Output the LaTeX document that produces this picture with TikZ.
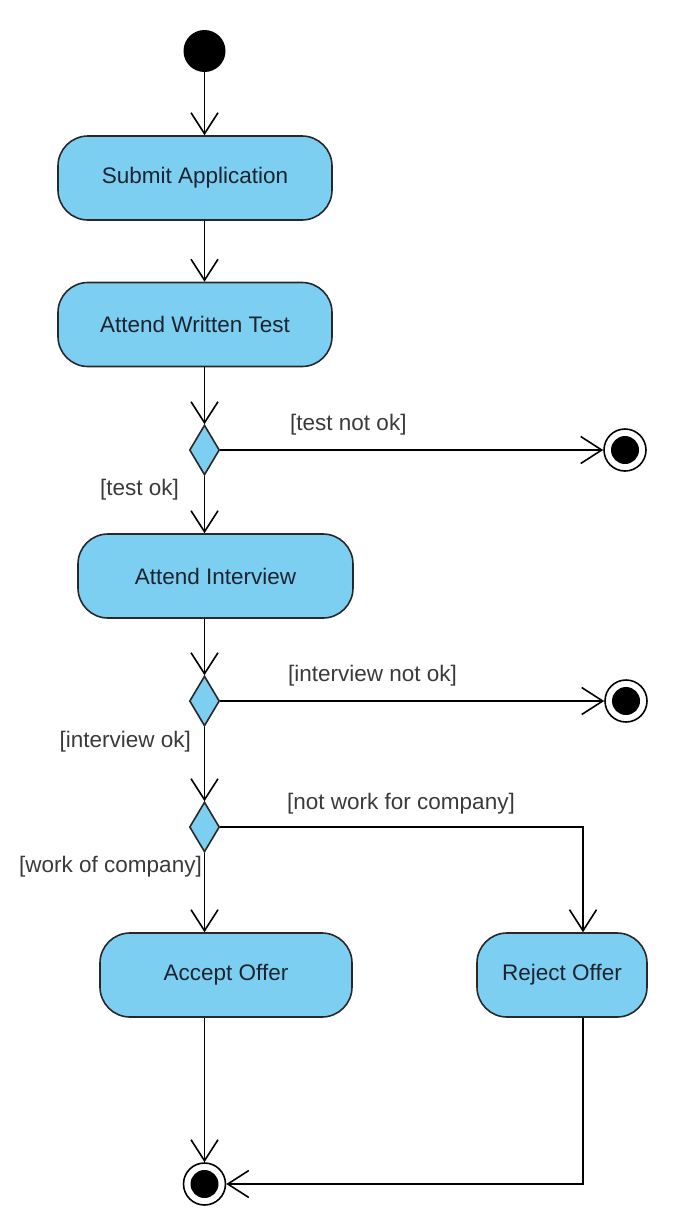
\documentclass[tikz,border=0pt]{standalone}
\usepackage{fontspec}
\setmainfont{Liberation Sans}
\usetikzlibrary{arrows.meta,shapes.geometric}
\definecolor{actblue}{RGB}{125,207,242}
\definecolor{actline}{RGB}{40,40,40}
\definecolor{acttext}{RGB}{28,36,48}
\definecolor{guardtext}{RGB}{58,58,58}
\tikzset{
  action/.style={draw=actline, fill=actblue, line width=1.6pt, rounded corners=30pt,
    minimum height=84pt, inner sep=0pt, text=acttext, font=\fontsize{22.5}{26}\selectfont},
  decision/.style={draw=actline, fill=actblue, line width=1.6pt, shape=diamond,
    minimum width=30pt, minimum height=50pt, inner sep=0pt},
  initial/.style={circle, fill=black, minimum size=42pt, inner sep=0pt},
  final/.style={circle, draw=black, line width=1.6pt, fill=white, minimum size=42pt, inner sep=0pt,
    path picture={\fill[black] (path picture bounding box.center) circle (14pt);}},
  flow/.style={draw=black, line width=1.6pt, -{Straight Barb[length=21pt,width=27pt,line width=1.6pt]}},
  guard/.style={text=guardtext, inner sep=0pt, font=\fontsize{22.5}{26}\selectfont}
}
\begin{document}
\begin{tikzpicture}[x=1pt,y=-1pt]
\useasboundingbox (0,0) rectangle (680,1216);
% nodes
\node[initial] (start) at (204.5,51) {};
\node[action, minimum width=274pt] (submit) at (195,178) {Submit Application};
\node[action, minimum width=274pt] (written) at (195,324.5) {Attend Written Test};
\node[decision] (d1) at (204.5,450) {};
\node[final] (f1) at (625,450) {};
\node[action, minimum width=275pt] (interview) at (215.5,576) {Attend Interview};
\node[decision] (d2) at (204.5,701) {};
\node[final] (f2) at (626,701) {};
\node[decision] (d3) at (204.5,827) {};
\node[action, minimum width=252pt] (accept) at (226,975) {Accept Offer};
\node[action, minimum width=170pt] (reject) at (562,975) {Reject Offer};
\node[final] (f3) at (204.5,1184) {};
\coordinate (rjx) at (583,975);
% guards
\node[guard, anchor=west] (g1) at (290,425) {[test not ok]};
\node[guard, anchor=east] (g2) at (179,490) {[test ok]};
\node[guard, anchor=west] (g3) at (288,676) {[interview not ok]};
\node[guard, anchor=east] (g4) at (191,742) {[interview ok]};
\node[guard, anchor=west] (g5) at (287,804) {[not work for company]};
\node[guard, anchor=east] (g6) at (202,867) {[work of company]};
% flows
\draw[flow] (start) -- (start |- submit.north);
\draw[flow] (start |- submit.south) -- (start |- written.north);
\draw[flow] (d1 |- written.south) -- (d1.north);
\draw[flow] (d1.east) -- (f1.west);
\draw[flow] (d1.south) -- (d1 |- interview.north);
\draw[flow] (d2 |- interview.south) -- (d2.north);
\draw[flow] (d2.east) -- (f2.west);
\draw[flow] (d2.south) -- (d3.north);
\draw[flow] (d3.south) -- (d3 |- accept.north);
\draw[flow] (d3.east) -| (rjx |- reject.north);
\draw[flow] (f3 |- accept.south) -- (f3.north);
\draw[flow] (rjx |- reject.south) |- (f3.east);
\end{tikzpicture}
\end{document}
